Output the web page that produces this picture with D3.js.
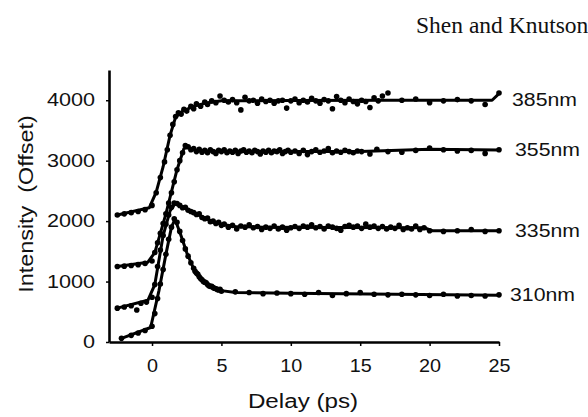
<!DOCTYPE html>
<html>
<head>
<meta charset="utf-8">
<script src="https://cdn.jsdelivr.net/npm/d3@7"></script>
<style>
  html, body { margin: 0; padding: 0; background: #fff; overflow: hidden; }
  svg { display: block; }
</style>
</head>
<body>
<script>
// ---------- data ----------
const xTicks = [0, 5, 10, 15, 20, 25];
const yTicks = [0, 1000, 2000, 3000, 4000];
const seriesNames = ["385nm", "355nm", "335nm", "310nm"];

const pts385 = [[-2.5,2100],[-2.0,2120],[-1.5,2140],[-1.0,2160],[-0.5,2190],[0.0,2260],[0.3,2470],[0.6,2720],[0.9,2980],[1.1,3180],[1.3,3420],[1.5,3600],[1.7,3730],[1.9,3790],[2.1,3770],[2.3,3850],[2.5,3820],[2.8,3900],[3.0,3860],[3.2,3940],[3.5,3900],[3.8,3970],[4.0,3930],[4.3,3990],[4.6,3960],[4.9,4070],[5.2,4000],[5.5,3970],[5.8,4010],[6.1,3960],[6.4,3840],[6.7,4050],[7.0,3990],[7.3,4000],[7.6,3950],[7.9,4020],[8.2,3980],[8.5,4000],[8.8,3950],[9.1,3990],[9.4,4000],[9.7,3870],[10.0,3990],[10.3,4020],[10.6,3960],[10.9,4000],[11.2,3970],[11.5,4030],[11.8,3990],[12.1,3950],[12.4,4010],[12.7,3990],[13.0,3860],[13.3,4060],[13.6,4000],[13.9,3960],[14.2,4020],[14.5,3980],[14.8,3940],[15.1,4000],[15.4,3980],[15.7,3880],[16.0,4040],[16.3,3990],[16.6,4070],[17.0,4120],[18.0,4000],[19.0,4020],[20.0,3960],[21.0,3990],[22.0,4010],[23.0,3990],[24.0,3930],[25.0,4120]];
const fit385 = [[-2.5,2100],[-0.2,2220],[0.3,2480],[0.8,2900],[1.3,3420],[1.7,3720],[2.2,3820],[3,3900],[4,3960],[5,3990],[10,3995],[17,4000],[24.5,4000],[25,4110]];

const pts355 = [[-2.5,1250],[-2.0,1255],[-1.5,1265],[-1.0,1280],[-0.5,1300],[0.0,1340],[0.2,1480],[0.4,1640],[0.6,1800],[0.8,1960],[1.0,2120],[1.2,2300],[1.4,2470],[1.6,2650],[1.8,2850],[2.0,3000],[2.2,3130],[2.4,3250],[2.6,3230],[2.8,3180],[3.0,3200],[3.2,3150],[3.4,3190],[3.6,3140],[3.8,3170],[4.0,3130],[4.2,3180],[4.4,3150],[4.6,3120],[4.8,3170],[5.0,3150],[5.2,3180],[5.4,3130],[5.6,3160],[5.8,3140],[6.0,3170],[6.2,3120],[6.4,3160],[6.6,3180],[6.8,3140],[7.0,3160],[7.2,3130],[7.4,3170],[7.6,3150],[7.8,3110],[8.0,3160],[8.2,3140],[8.4,3170],[8.6,3130],[8.8,3160],[9.0,3150],[9.2,3180],[9.4,3120],[9.6,3150],[9.8,3170],[10.0,3140],[10.3,3160],[10.6,3120],[10.9,3170],[11.2,3100],[11.5,3150],[11.8,3180],[12.1,3140],[12.4,3160],[12.7,3200],[13.0,3130],[13.3,3160],[13.6,3140],[13.9,3170],[14.2,3150],[14.5,3130],[14.8,3160],[15.1,3150],[15.7,3110],[16.2,3190],[17.0,3150],[18.0,3140],[19.0,3170],[20.0,3210],[21.0,3180],[22.0,3160],[23.0,3170],[24.0,3120],[25.0,3180]];
const fit355 = [[-2.5,1250],[-0.3,1320],[0.2,1480],[1.0,2120],[1.8,2850],[2.3,3200],[2.6,3220],[3.2,3170],[5,3150],[15,3150],[20,3190],[25,3175]];

const pts335 = [[-2.5,560],[-2.0,580],[-1.5,600],[-1.1,530],[-0.8,640],[-0.4,660],[0.0,740],[0.2,950],[0.4,1250],[0.6,1520],[0.8,1760],[1.0,1950],[1.2,2100],[1.4,2230],[1.6,2300],[1.8,2290],[2.0,2260],[2.2,2220],[2.4,2230],[2.6,2180],[2.8,2160],[3.0,2140],[3.2,2110],[3.4,2120],[3.6,2060],[3.8,2040],[4.0,2050],[4.2,1990],[4.4,2000],[4.6,1960],[4.8,1980],[5.0,1930],[5.2,1950],[5.5,1900],[5.8,1930],[6.1,1870],[6.4,1920],[6.7,1900],[7.0,1940],[7.3,1890],[7.6,1910],[7.9,1860],[8.2,1900],[8.5,1880],[8.8,1920],[9.1,1870],[9.4,1900],[9.7,1850],[10.0,1890],[10.3,1910],[10.6,1880],[10.9,1920],[11.2,1900],[11.5,1940],[11.8,1890],[12.1,1910],[12.4,1870],[12.7,1920],[13.0,1900],[13.3,1880],[13.6,1850],[13.9,1910],[14.2,1930],[14.5,1900],[14.8,1920],[15.1,1880],[15.4,1950],[15.7,1900],[16.0,1920],[16.3,1880],[16.6,1910],[16.9,1870],[17.2,1900],[17.5,1880],[17.8,1930],[18.1,1860],[18.4,1890],[18.7,1870],[19.0,1920],[19.3,1860],[19.6,1890],[20.0,1840],[21.0,1830],[22.0,1840],[23.0,1860],[24.0,1830],[25.0,1840]];
const fit335 = [[-2.5,560],[-0.3,690],[0.2,950],[0.8,1760],[1.3,2170],[1.7,2300],[2.2,2230],[3,2140],[4,2030],[5,1950],[6,1910],[8,1900],[19.6,1890],[20.2,1840],[25,1840]];

const pts310 = [[-2.2,60],[-1.5,110],[-1.0,150],[-0.5,190],[0.0,260],[0.2,470],[0.4,720],[0.6,960],[0.8,1200],[1.0,1450],[1.2,1700],[1.4,1900],[1.6,2040],[1.8,1980],[2.0,1830],[2.2,1680],[2.4,1540],[2.6,1420],[2.8,1310],[3.0,1220],[3.1,1170],[3.2,1140],[3.3,1120],[3.4,1080],[3.5,1050],[3.6,1030],[3.7,1000],[3.8,990],[3.9,980],[4.0,950],[4.1,930],[4.2,920],[4.3,920],[4.4,900],[4.5,890],[4.6,880],[4.7,870],[4.8,860],[4.9,870],[5.0,840],[6.0,830],[7.0,820],[8.0,800],[9.0,810],[10.0,800],[11.0,790],[12.0,820],[13.0,770],[14.0,800],[15.0,820],[16.0,790],[17.0,780],[18.0,790],[19.0,780],[20.0,770],[21.0,790],[22.0,760],[23.0,770],[24.0,760],[25.0,780]];
const fit310 = [[-2.2,60],[-0.1,240],[0.5,850],[1.0,1450],[1.4,1900],[1.65,2030],[2.0,1820],[2.5,1480],[3,1210],[3.5,1050],[4,950],[5,850],[6,820],[10,805],[25,775]];

const allPts = [pts385, pts355, pts335, pts310];
const allFits = [fit385, fit355, fit335, fit310];
const labelAnchor = [[25, 4000], [25, 3170], [25, 1840], [25, 780]];

// ---------- layout ----------
const W = 588, H = 417;
const svg = d3.select("body").append("svg").attr("width", W).attr("height", H);

const x = d3.scaleLinear().domain([-3.1, 25]).range([109, 499]);
const y = d3.scaleLinear().domain([0, 4500]).range([342, 70]);

function stretch(sel, k) {
  sel.each(function () {
    const w = this.getComputedTextLength();
    d3.select(this).attr("textLength", w * k).attr("lengthAdjust", "spacingAndGlyphs");
  });
}

// x axis
const gx = svg.append("g").attr("transform", `translate(0,${y(0)})`)
  .call(d3.axisBottom(x).tickValues(xTicks).tickSize(4).tickSizeOuter(0).tickPadding(13).tickFormat(d3.format("d")));
gx.select(".domain").attr("stroke", "#000").attr("stroke-width", 2.6);
gx.selectAll(".tick line").attr("stroke", "#000").attr("stroke-width", 1.5);
gx.selectAll(".tick text").attr("font-family", "Liberation Sans, Arial, sans-serif").attr("font-size", 18).attr("fill", "#111");
stretch(gx.selectAll(".tick text"), 1.1);

// y axis
const gy = svg.append("g").attr("transform", `translate(${x(-3.1)},0)`)
  .call(d3.axisLeft(y).tickValues(yTicks).tickSize(3).tickSizeOuter(0).tickPadding(11).tickFormat(d3.format("d")));
gy.select(".domain").attr("stroke", "#000").attr("stroke-width", 2.6);
gy.selectAll(".tick line").attr("stroke", "#000").attr("stroke-width", 1.5);
gy.selectAll(".tick text").attr("font-family", "Liberation Sans, Arial, sans-serif").attr("font-size", 18).attr("fill", "#111");
stretch(gy.selectAll(".tick text"), 1.2);

// fit lines
const line = d3.line().x(d => x(d[0])).y(d => y(d[1]));
svg.append("g").selectAll("path").data(allFits).join("path")
  .attr("d", line).attr("fill", "none").attr("stroke", "#000")
  .attr("stroke-width", 3).attr("stroke-linejoin", "round");

// data points
allPts.forEach(p => {
  svg.append("g").selectAll("circle").data(p).join("circle")
    .attr("cx", d => x(d[0])).attr("cy", d => y(d[1])).attr("r", 2.8).attr("fill", "#000");
});

// series labels
const labelDx = [13, 16, 16, 11];
const lab = svg.append("g").selectAll("text").data(seriesNames).join("text")
  .attr("x", (d, i) => x(labelAnchor[i][0]) + labelDx[i])
  .attr("y", (d, i) => y(labelAnchor[i][1]) + 6)
  .attr("font-family", "Liberation Sans, Arial, sans-serif").attr("font-size", 18).attr("fill", "#111")
  .text(d => d);
stretch(lab, 1.18);

// axis titles
const xt = svg.append("text").attr("x", 303).attr("y", 408).attr("text-anchor", "middle")
  .attr("font-family", "Liberation Sans, Arial, sans-serif").attr("font-size", 19.5).attr("fill", "#111")
  .text("Delay (ps)");
stretch(xt, 1.24);

const yt = svg.append("text").attr("transform", "translate(33,204) rotate(-90)").attr("text-anchor", "middle")
  .attr("font-family", "Liberation Sans, Arial, sans-serif").attr("font-size", 19.5).attr("fill", "#111")
  .style("white-space", "pre")
  .text("Intensity  (Offset)");
stretch(yt, 1.2);

// header
svg.append("text").attr("x", 416).attr("y", 33)
  .attr("font-family", "Liberation Serif, Times New Roman, serif").attr("font-size", 23.5).attr("fill", "#111")
  .text("Shen and Knutson");
</script>
</body>
</html>
